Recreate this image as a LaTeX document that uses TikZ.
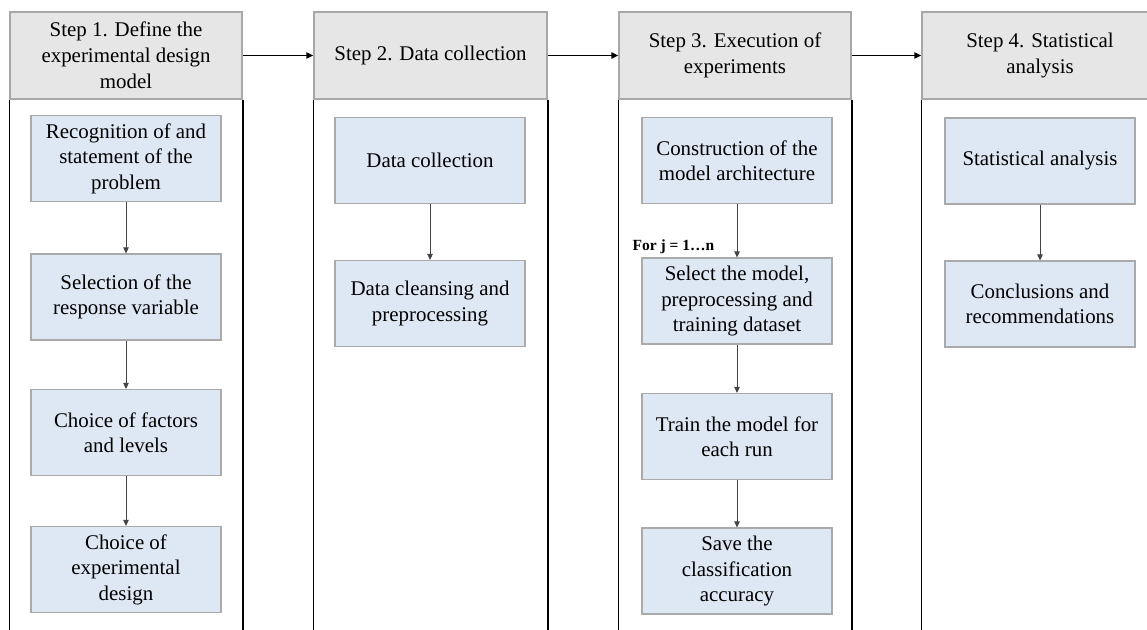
\documentclass[tikz,border=0pt]{standalone}
\usepackage{fontspec}
\setmainfont{Liberation Serif}
\usetikzlibrary{arrows.meta}
\definecolor{hdrfill}{HTML}{E6E6E6}
\definecolor{hdrdraw}{HTML}{A8A8A8}
\definecolor{boxfill}{HTML}{DEE8F4}
\definecolor{boxdraw}{HTML}{AAAAAA}
\definecolor{inarrow}{HTML}{444444}
\tikzset{
  hdr/.style={draw=hdrdraw, fill=hdrfill, line width=1.2pt, minimum width=232pt, minimum height=87pt,
    align=center, inner sep=0pt, font=\fontsize{20.9}{26}\selectfont},
  stepbox/.style={draw=boxdraw, fill=boxfill, line width=1.2pt, minimum width=190pt, minimum height=86pt,
    align=center, inner sep=0pt, font=\fontsize{20.9}{25.5}\selectfont},
  colline/.style={line width=1.8pt, black},
  bigarrow/.style={line width=1.8pt, black, -{Triangle[length=7pt,width=6pt]}},
  smallarrow/.style={line width=0.9pt, inarrow, -{Triangle[length=6pt,width=5.5pt]}},
  looplabel/.style={font=\bfseries\fontsize{15.5}{17}\selectfont, inner sep=0pt}
}
\begin{document}
\begin{tikzpicture}[x=1pt,y=-1pt]
\useasboundingbox (0,0) rectangle (1147,629);
\clip (0,0) rectangle (1147,629);
\coordinate (bot) at (0,640);
% headers
\node[hdr] (h1) at (126,55.5) {Step 1. Define the\\experimental design\\model};
\node[hdr,minimum width=233pt] (h2) at (430.5,55.5) {Step 2. Data collection};
\node[hdr] (h3) at (735,55.5) {Step 3. Execution of\\experiments};
\node[hdr,minimum width=236pt] (h4) at (1040,55.5) {Step 4. Statistical\\analysis};
% column lines
\draw[colline] (h1.south west) -- (h1.south west |- bot);
\draw[colline] (h1.south east) -- (h1.south east |- bot);
\draw[colline] (h2.south west) -- (h2.south west |- bot);
\draw[colline] (h2.south east) -- (h2.south east |- bot);
\draw[colline] (h3.south west) -- (h3.south west |- bot);
\draw[colline] (h3.south east) -- (h3.south east |- bot);
\draw[colline] (h4.south west) -- (h4.south west |- bot);
% header arrows
\draw[bigarrow] (h1.east) -- (h2.west);
\draw[bigarrow] (h2.east) -- (h3.west);
\draw[bigarrow] (h3.east) -- (h4.west);
% column 1
\node[stepbox] (b11) at (126,158.5) {Recognition of and\\statement of the\\problem};
\node[stepbox] (b12) at (126,297) {Selection of the\\response variable};
\node[stepbox] (b13) at (126,432.5) {Choice of factors\\and levels};
\node[stepbox] (b14) at (126,569.5) {Choice of\\experimental\\design};
\draw[smallarrow] (b11) -- (b12);
\draw[smallarrow] (b12) -- (b13);
\draw[smallarrow] (b13) -- (b14);
% column 2
\node[stepbox] (b21) at (430,160.5) {Data collection};
\node[stepbox] (b22) at (430,303.5) {Data cleansing and\\preprocessing};
\draw[smallarrow] (b21) -- (b22);
% column 3
\node[stepbox] (b31) at (737,160.5) {Construction of the\\model architecture};
\node[stepbox] (b32) at (737,301) {Select the model,\\preprocessing and\\training dataset};
\node[stepbox] (b33) at (737,436.5) {Train the model for\\each run};
\node[stepbox] (b34) at (737,571) {Save the\\classification\\accuracy};
\draw[smallarrow] (b31) -- (b32);
\draw[smallarrow] (b32) -- (b33);
\draw[smallarrow] (b33) -- (b34);
\node[looplabel] (loop) at (673.5,247) {For j = 1…n};
% column 4
\node[stepbox] (b41) at (1040,161) {Statistical analysis};
\node[stepbox] (b42) at (1040,304) {Conclusions and\\recommendations};
\draw[smallarrow] (b41) -- (b42);
\end{tikzpicture}
\end{document}
